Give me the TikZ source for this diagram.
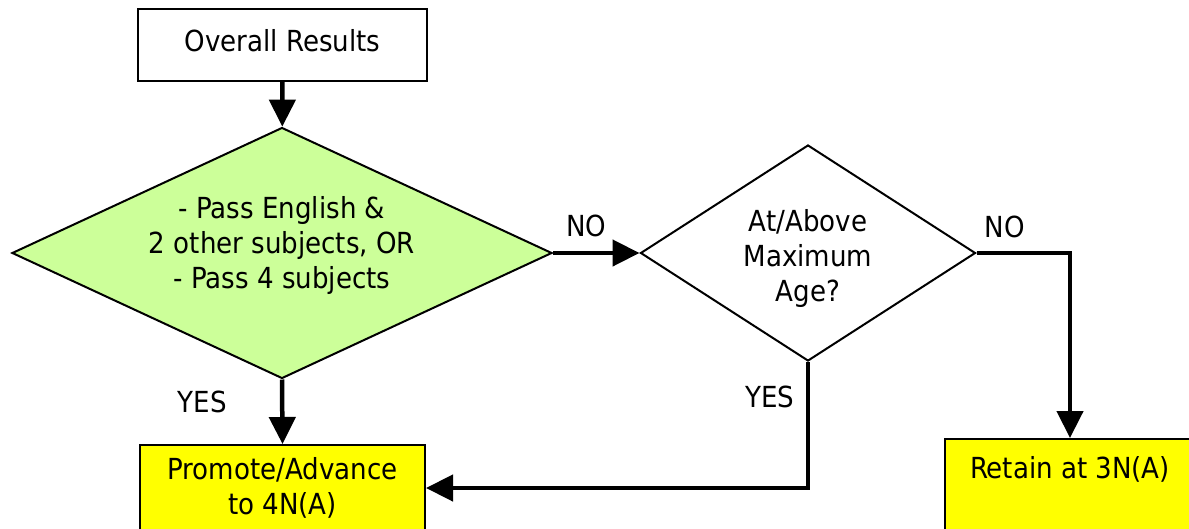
\documentclass[tikz,border=0pt]{standalone}
\usepackage{fontspec}
\setmainfont{DejaVu Sans Condensed}
\usetikzlibrary{positioning,calc,arrows.meta,shapes.geometric}
\definecolor{passgreen}{RGB}{204,255,153}
\definecolor{resyellow}{RGB}{255,255,0}

\begin{document}
\begin{tikzpicture}[x=1pt,y=-1pt,
    every node/.style={font=\fontsize{29pt}{35pt}\selectfont},
    box/.style={draw,line width=2pt,inner sep=0pt,align=center},
    decision/.style={draw,line width=2pt,shape=diamond,inner sep=0pt,align=center},
    flow/.style={line width=4.5pt,-{Triangle[length=27pt,width=26pt]}}]
    \useasboundingbox (0,0) rectangle (1189,528);
    \clip (0,0) rectangle (1189,528);
    \node[box, minimum width=289pt, minimum height=72pt, text depth=10pt] (res) at (282.5,45) {Overall Results};
    \node[decision, fill=passgreen, minimum width=540pt, minimum height=251pt, aspect=2.15] (pass) at (282,253) {- Pass English \&\\2 other subjects, OR\\- Pass 4 subjects\rule[-21pt]{0pt}{21pt}};
    \node[decision, minimum width=335pt, minimum height=216pt, aspect=1.55] (age) at (808,253) {\rule{0pt}{34pt}At/Above\\Maximum\\Age?};
    \node[box, fill=resyellow, minimum width=285pt, minimum height=86pt] (promote) at (282.5,488) {Promote/Advance\\to 4N(A)};
    \node[box, fill=resyellow, minimum width=250pt, text height=39pt, text depth=60pt] (retain) at (1070,488.5) {Retain at 3N(A)};
    %
    \draw[flow] (res) -- (pass);
    \draw[flow] (pass) -- node[above=11pt, xshift=-10pt] (no1) {NO} (age);
    \draw[flow] (pass.south) -- node[pos=0.35, left=50pt] (yes1) {YES} (promote.north);
    \draw[flow] (age.east) -| node[pos=0.15, above=10pt] (no2) {NO} (retain.north);
    \draw[flow] (age.south) |- node[pos=0.14, left=8pt] (yes2) {YES} (promote.east);
\end{tikzpicture}
\end{document}
